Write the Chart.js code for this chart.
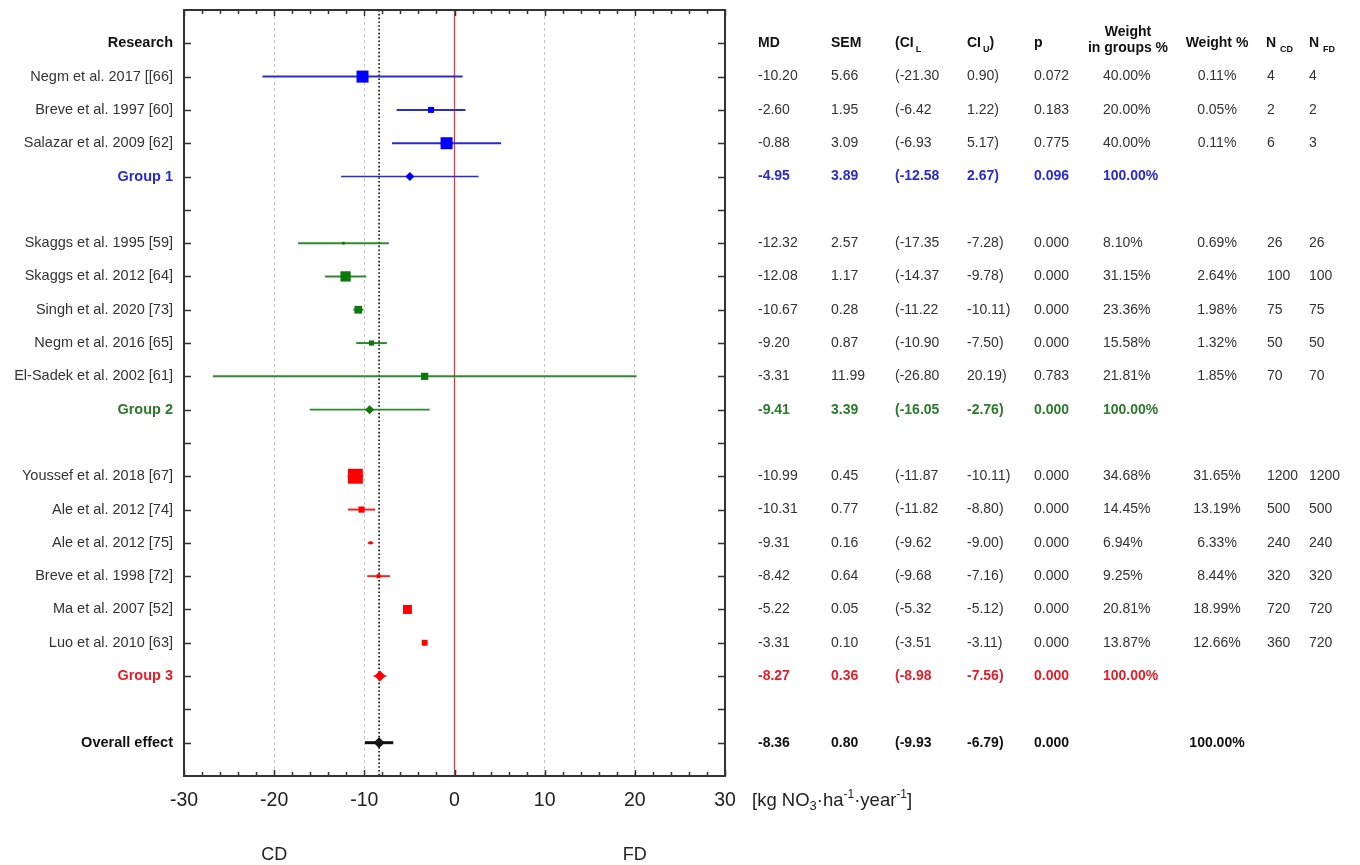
<!DOCTYPE html>
<html>
<head>
<meta charset="utf-8">
<script src="https://cdn.jsdelivr.net/npm/chart.js@4.4.1/dist/chart.umd.min.js"></script>
<style>
  html, body { margin: 0; padding: 0; background: #ffffff; }
  #wrap { width: 1360px; height: 865px; position: relative; }
</style>
</head>
<body>
<div id="wrap"><canvas id="forest" width="1360" height="865"></canvas></div>
<script>
// ---- Forest plot data: one entry per row, top to bottom ----
const rowLabels = [
  'Research',
  'Negm et al. 2017 [[66]', 'Breve et al. 1997 [60]', 'Salazar et al. 2009 [62]', 'Group 1',
  '',
  'Skaggs et al. 1995 [59]', 'Skaggs et al. 2012 [64]', 'Singh et al. 2020 [73]',
  'Negm et al. 2016 [65]', 'El-Sadek et al. 2002 [61]', 'Group 2',
  '',
  'Youssef et al. 2018 [67]', 'Ale et al. 2012 [74]', 'Ale et al. 2012 [75]',
  'Breve et al. 1998 [72]', 'Ma et al. 2007 [52]', 'Luo et al. 2010 [63]', 'Group 3',
  '',
  'Overall effect'
];
const rowKind = [
  'header',
  'study', 'study', 'study', 'group',
  'gap',
  'study', 'study', 'study', 'study', 'study', 'group',
  'gap',
  'study', 'study', 'study', 'study', 'study', 'study', 'group',
  'gap',
  'overall'
];
const rowGroup = [0, 1, 1, 1, 1, 0, 2, 2, 2, 2, 2, 2, 0, 3, 3, 3, 3, 3, 3, 3, 0, 4];

const meanDiff = [null, -10.20, -2.60, -0.88, -4.95, null, -12.32, -12.08, -10.67, -9.20, -3.31, -9.41, null,
  -10.99, -10.31, -9.31, -8.42, -5.22, -3.31, -8.27, null, -8.36];
const semValues = [null, 5.66, 1.95, 3.09, 3.89, null, 2.57, 1.17, 0.28, 0.87, 11.99, 3.39, null,
  0.45, 0.77, 0.16, 0.64, 0.05, 0.10, 0.36, null, 0.80];
const ciLower = [null, -21.30, -6.42, -6.93, -12.58, null, -17.35, -14.37, -11.22, -10.90, -26.80, -16.05, null,
  -11.87, -11.82, -9.62, -9.68, -5.32, -3.51, -8.98, null, -9.93];
const ciUpper = [null, 0.90, 1.22, 5.17, 2.67, null, -7.28, -9.78, -10.11, -7.50, 20.19, -2.76, null,
  -10.11, -8.80, -9.00, -7.16, -5.12, -3.11, -7.56, null, -6.79];
const pValues = [null, 0.072, 0.183, 0.775, 0.096, null, 0.000, 0.000, 0.000, 0.000, 0.783, 0.000, null,
  0.000, 0.000, 0.000, 0.000, 0.000, 0.000, 0.000, null, 0.000];
const weightInGroup = [null, 40.00, 20.00, 40.00, 100.00, null, 8.10, 31.15, 23.36, 15.58, 21.81, 100.00, null,
  34.68, 14.45, 6.94, 9.25, 20.81, 13.87, 100.00, null, null];
const weightTotal = [null, 0.11, 0.05, 0.11, null, null, 0.69, 2.64, 1.98, 1.32, 1.85, null, null,
  31.65, 13.19, 6.33, 8.44, 18.99, 12.66, null, null, 100.00];
const nCD = [null, 4, 2, 6, null, null, 26, 100, 75, 50, 70, null, null, 1200, 500, 240, 320, 720, 360, null, null, null];
const nFD = [null, 4, 2, 3, null, null, 26, 100, 75, 50, 70, null, null, 1200, 500, 240, 320, 720, 720, null, null, null];

const xTicks = [-30, -20, -10, 0, 10, 20, 30];
const sideLabels = [{ text: 'CD', at: -20 }, { text: 'FD', at: 20 }];

// ---- Styling ----
const FONT = '"Liberation Sans", Arial, Helvetica, sans-serif';
const markerColor = { 1: '#0000ff', 2: '#0b7a0b', 3: '#ff0000', 4: '#111111' };
const barColor = { 1: '#2b2bd0', 2: '#2f8a2f', 3: '#ee2626', 4: '#111111' };
const textColor = { 0: '#111111', 1: '#2a2ad4', 2: '#2a7a2a', 3: '#e01f2a', 4: '#111111' };
const squareScale = { 1: 0.30, 2: 0.33, 3: 0.43 };   // marker side (px) per % weight
const diamondRadius = { 1: 4.5, 2: 4.5, 3: 5.5, 4: 5.5 };

function markerRadius(row) {
  const kind = rowKind[row];
  const g = rowGroup[row];
  if (kind === 'group' || kind === 'overall') return diamondRadius[g];
  const side = Math.max(2, weightInGroup[row] * squareScale[g]);
  return side / (2 * Math.SQRT1_2);
}

function buildDataset(g) {
  const pts = [];
  meanDiff.forEach((v, i) => { if (v !== null && rowGroup[i] === g) pts.push({ x: v, y: i }); });
  return {
    data: pts,
    showLine: false,
    backgroundColor: markerColor[g],
    borderColor: markerColor[g],
    borderWidth: 0,
    pointStyle: ctx => (ctx.raw && rowKind[ctx.raw.y] === 'study') ? 'rect' : 'rectRot',
    pointRadius: ctx => ctx.raw ? markerRadius(ctx.raw.y) : 3,
    pointHoverRadius: ctx => ctx.raw ? markerRadius(ctx.raw.y) : 3
  };
}

// Reference lines and confidence intervals, drawn under the markers
const intervalsPlugin = {
  id: 'intervals',
  beforeDatasetsDraw(chart) {
    const { ctx, chartArea: a, scales: { x, y } } = chart;
    ctx.save();
    // no-effect line
    const x0 = x.getPixelForValue(0);
    ctx.strokeStyle = '#e23a3a';
    ctx.lineWidth = 1.3;
    ctx.beginPath(); ctx.moveTo(x0, a.top); ctx.lineTo(x0, a.bottom); ctx.stroke();
    // overall mean difference line
    const overallRow = rowKind.indexOf('overall');
    const xo = x.getPixelForValue(meanDiff[overallRow]);
    ctx.strokeStyle = '#222222';
    ctx.lineWidth = 1.8;
    ctx.setLineDash([1.6, 2.2]);
    ctx.beginPath(); ctx.moveTo(xo, a.top); ctx.lineTo(xo, a.bottom); ctx.stroke();
    ctx.setLineDash([]);
    // confidence intervals
    meanDiff.forEach((v, i) => {
      if (v === null) return;
      const yy = y.getPixelForValue(i);
      const kind = rowKind[i];
      ctx.strokeStyle = barColor[rowGroup[i]];
      ctx.lineWidth = kind === 'overall' ? 3 : (kind === 'group' ? 1.6 : 2);
      ctx.beginPath();
      ctx.moveTo(x.getPixelForValue(ciLower[i]), yy);
      ctx.lineTo(x.getPixelForValue(ciUpper[i]), yy);
      ctx.stroke();
    });
    ctx.restore();
  }
};

function drawRich(ctx, parts, x, y, align) {
  // parts: [{t, size, bold, dy, gap}]
  let total = 0;
  parts.forEach(p => {
    ctx.font = (p.bold ? 'bold ' : '') + p.size + 'px ' + FONT;
    p.w = ctx.measureText(p.t).width + (p.gap || 0);
    total += p.w;
  });
  let cx = align === 'center' ? x - total / 2 : x;
  ctx.textAlign = 'left';
  parts.forEach(p => {
    ctx.font = (p.bold ? 'bold ' : '') + p.size + 'px ' + FONT;
    ctx.fillText(p.t, cx + (p.gap || 0), y + (p.dy || 0));
    cx += p.w;
  });
}

// Frame, inward tick marks and the statistics table
const framePlugin = {
  id: 'frame',
  afterDraw(chart) {
    const { ctx, chartArea: a, scales: { x, y } } = chart;
    ctx.save();
    ctx.strokeStyle = '#333333';
    ctx.lineWidth = 1.5;
    // row ticks on both sides
    ctx.beginPath();
    for (let r = 0; r < rowLabels.length; r++) {
      const yy = Math.round(y.getPixelForValue(r)) + 0.5;
      ctx.moveTo(a.left, yy); ctx.lineTo(a.left + 7, yy);
      ctx.moveTo(a.right - 7, yy); ctx.lineTo(a.right, yy);
    }
    // minor/major ticks top and bottom
    for (let v = x.min; v <= x.max; v += 2) {
      const xx = Math.round(x.getPixelForValue(v)) + 0.5;
      const len = v % 10 === 0 ? 6 : 4;
      ctx.moveTo(xx, a.top); ctx.lineTo(xx, a.top + len);
      ctx.moveTo(xx, a.bottom); ctx.lineTo(xx, a.bottom - len);
    }
    ctx.stroke();
    ctx.lineWidth = 2;
    ctx.strokeRect(a.left, a.top, a.right - a.left, a.bottom - a.top);

    // CD / FD direction labels
    ctx.fillStyle = '#222222';
    ctx.textBaseline = 'middle';
    ctx.textAlign = 'center';
    ctx.font = '18px ' + FONT;
    sideLabels.forEach(s => ctx.fillText(s.text, x.getPixelForValue(s.at), 855));

    // unit label
    ctx.fillStyle = '#222222';
    drawRich(ctx, [
      { t: '[kg NO', size: 18.5 },
      { t: '3', size: 13, dy: 5 },
      { t: '·ha', size: 18.5 },
      { t: '-1', size: 12, dy: -6 },
      { t: '·year', size: 18.5 },
      { t: '-1', size: 12, dy: -6 },
      { t: ']', size: 18.5 }
    ], 752, 801, 'left');

    // table header
    const hy = y.getPixelForValue(0);
    ctx.fillStyle = '#111111';
    const hb = { size: 14, bold: true };
    drawRich(ctx, [{ t: 'MD', ...hb }], 758, hy, 'left');
    drawRich(ctx, [{ t: 'SEM', ...hb }], 831, hy, 'left');
    drawRich(ctx, [{ t: '(CI', ...hb }, { t: 'L', size: 9, bold: true, dy: 6, gap: 2 }], 895, hy, 'left');
    drawRich(ctx, [{ t: 'CI', ...hb }, { t: 'U', size: 9, bold: true, dy: 6, gap: 2 }, { t: ')', ...hb }], 967, hy, 'left');
    drawRich(ctx, [{ t: 'p', ...hb }], 1034, hy, 'left');
    drawRich(ctx, [{ t: 'Weight', ...hb }], 1128, hy - 11, 'center');
    drawRich(ctx, [{ t: 'in groups %', ...hb }], 1128, hy + 5, 'center');
    drawRich(ctx, [{ t: 'Weight %', ...hb }], 1217, hy, 'center');
    drawRich(ctx, [{ t: 'N', ...hb }, { t: 'CD', size: 9, bold: true, dy: 6, gap: 4 }], 1266, hy, 'left');
    drawRich(ctx, [{ t: 'N', ...hb }, { t: 'FD', size: 9, bold: true, dy: 6, gap: 4 }], 1309, hy, 'left');

    // table rows
    meanDiff.forEach((v, i) => {
      if (v === null) return;
      const yy = y.getPixelForValue(i);
      const study = rowKind[i] === 'study';
      ctx.fillStyle = study ? '#333333' : textColor[rowGroup[i]];
      const st = { size: 14, bold: !study };
      drawRich(ctx, [{ t: v.toFixed(2), ...st }], 758, yy, 'left');
      drawRich(ctx, [{ t: semValues[i].toFixed(2), ...st }], 831, yy, 'left');
      drawRich(ctx, [{ t: '(' + ciLower[i].toFixed(2), ...st }], 895, yy, 'left');
      drawRich(ctx, [{ t: ciUpper[i].toFixed(2) + ')', ...st }], 967, yy, 'left');
      drawRich(ctx, [{ t: pValues[i].toFixed(3), ...st }], 1034, yy, 'left');
      if (weightInGroup[i] !== null) drawRich(ctx, [{ t: weightInGroup[i].toFixed(2) + '%', ...st }], 1103, yy, 'left');
      if (weightTotal[i] !== null) drawRich(ctx, [{ t: weightTotal[i].toFixed(2) + '%', ...st }], 1217, yy, 'center');
      if (nCD[i] !== null) drawRich(ctx, [{ t: String(nCD[i]), ...st }], 1267, yy, 'left');
      if (nFD[i] !== null) drawRich(ctx, [{ t: String(nFD[i]), ...st }], 1309, yy, 'left');
    });
    ctx.restore();
  }
};

new Chart(document.getElementById('forest'), {
  type: 'scatter',
  data: { datasets: [1, 2, 3, 4].map(buildDataset) },
  options: {
    responsive: false,
    animation: false,
    events: [],
    layout: { autoPadding: false, padding: { left: 0, right: 635, top: 10, bottom: 0 } },
    plugins: { legend: { display: false }, tooltip: { enabled: false }, title: { display: false } },
    scales: {
      x: {
        type: 'linear',
        min: -30, max: 30,
        afterBuildTicks: s => { s.ticks = xTicks.map(v => ({ value: v })); },
        afterFit: s => { s.height = 89; s.paddingLeft = 0; s.paddingRight = 0; },
        ticks: {
          autoSkip: false,
          maxRotation: 0,
          padding: 13,
          color: '#222222',
          font: { family: FONT, size: 19.5 }
        },
        grid: {
          drawTicks: false,
          lineWidth: 1,
          color: c => (c.tick && [-20, -10, 10, 20].includes(c.tick.value)) ? '#c4c4c4' : 'rgba(0,0,0,0)'
        },
        border: { display: false, dash: [3, 3] }
      },
      y: {
        type: 'linear',
        reverse: true,
        min: -1, max: rowLabels.length,
        afterBuildTicks: s => { s.ticks = rowLabels.map((_, i) => ({ value: i })); },
        afterFit: s => { s.width = 184; s.paddingTop = 0; s.paddingBottom = 0; },
        ticks: {
          autoSkip: false,
          padding: 11,
          callback: v => rowLabels[v] || '',
          color: c => {
            const i = c.tick ? c.tick.value : c.index;
            return rowKind[i] === 'study' ? '#333333' : textColor[rowGroup[i]];
          },
          font: c => {
            const i = c.tick ? c.tick.value : c.index;
            return { family: FONT, size: 14.5, weight: rowKind[i] === 'study' ? 'normal' : 'bold' };
          }
        },
        grid: { display: false, drawTicks: false },
        border: { display: false }
      }
    }
  },
  plugins: [intervalsPlugin, framePlugin]
});
</script>
</body>
</html>
